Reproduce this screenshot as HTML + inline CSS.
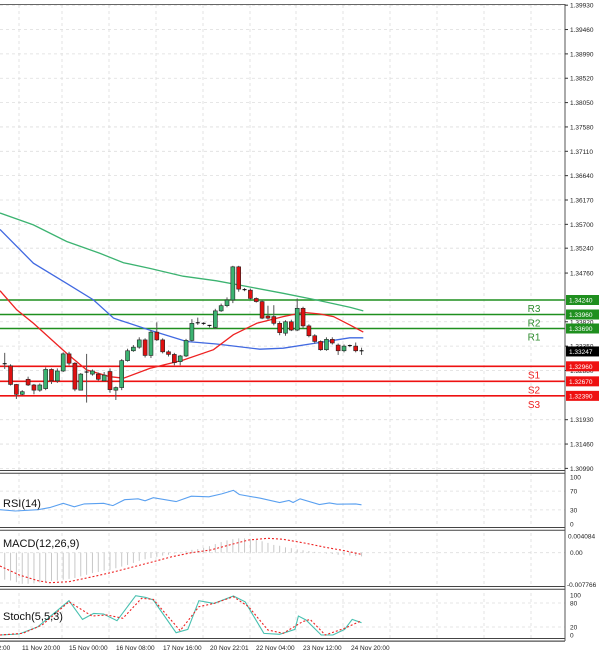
<!DOCTYPE html>
<html><head><meta charset="utf-8"><style>
html,body{margin:0;padding:0;background:#fff;}
svg{display:block;font-family:"Liberation Sans",sans-serif;}
</style></head><body>
<svg id="c" width="600" height="657" viewBox="0 0 600 657" xmlns="http://www.w3.org/2000/svg"></svg>
<script>
// ---- data ----
const opens  = [1.3301,1.3297,1.3261,1.3242,1.3271,1.3260,1.3250,1.3253,1.3290,1.3268,1.3287,1.3320,1.3302,1.3250,1.3284,1.3281,1.3281,1.3268,1.3286,1.3250,1.3255,1.3307,1.3326,1.3333,1.3347,1.3317,1.3362,1.3347,1.3324,1.3319,1.3305,1.3316,1.3346,1.3380,1.3379,1.3375,1.3371,1.3403,1.3413,1.3424,1.3488,1.3444,1.3443,1.3427,1.3421,1.3393,1.3392,1.3379,1.3360,1.3382,1.3366,1.3408,1.3374,1.3355,1.3344,1.3328,1.3348,1.3337,1.3326,1.3336,1.3335,1.3326];
const closes = [1.3299,1.3261,1.3242,1.3247,1.3260,1.3250,1.3260,1.3290,1.3268,1.3287,1.3320,1.3302,1.3252,1.3281,1.3285,1.3287,1.3271,1.3279,1.3251,1.3255,1.3307,1.3326,1.3333,1.3347,1.3317,1.3362,1.3347,1.3324,1.3319,1.3303,1.3316,1.3346,1.3379,1.3379,1.3378,1.3373,1.3403,1.3413,1.3424,1.3488,1.3445,1.3443,1.3427,1.3421,1.3389,1.3389,1.3379,1.3361,1.3382,1.3366,1.3408,1.3374,1.3355,1.3344,1.3328,1.3348,1.3341,1.3326,1.3335,1.3335,1.3326,1.3325];
const highs  = [1.3322,1.3300,1.3262,1.3250,1.3276,1.3262,1.3263,1.3294,1.3292,1.3292,1.3323,1.3324,1.3304,1.3283,1.3320,1.3290,1.3284,1.3285,1.3292,1.3257,1.3310,1.3330,1.3337,1.3352,1.3350,1.3366,1.3381,1.3350,1.3327,1.3322,1.3318,1.3349,1.3387,1.3390,1.3381,1.3376,1.3407,1.3417,1.3429,1.3490,1.3490,1.3447,1.3446,1.3429,1.3424,1.3413,1.3414,1.3383,1.3385,1.3386,1.3427,1.3411,1.3377,1.3358,1.3346,1.3352,1.3352,1.3340,1.3338,1.3338,1.3342,1.3332];
const lows   = [1.3291,1.3259,1.3233,1.3240,1.3258,1.3242,1.3247,1.3250,1.3262,1.3264,1.3285,1.3298,1.3248,1.3278,1.3226,1.3278,1.3268,1.3276,1.3245,1.3231,1.3250,1.3305,1.3324,1.3330,1.3313,1.3312,1.3345,1.3321,1.3315,1.3298,1.3298,1.3314,1.3344,1.3376,1.3376,1.3371,1.3368,1.3401,1.3410,1.3418,1.3440,1.3441,1.3425,1.3419,1.3387,1.3386,1.3375,1.3356,1.3355,1.3364,1.3364,1.3370,1.3352,1.3340,1.3326,1.3326,1.3338,1.3318,1.3323,1.3333,1.3323,1.3318];
const greenIdx = [-0.8,4.9,10.6,16.3,20.3,24.8,30.5,36.2,41.9,47.6,53.3,59.0,61.3];
const greenMA  = [1.3592,1.3569,1.3537,1.3514,1.3496,1.3485,1.3470,1.3461,1.3449,1.3437,1.3424,1.3410,1.3403];
const blueIdx  = [-0.8,4.9,10.6,15.2,18.6,24.8,31.1,36.2,43.6,47.6,53.3,59.0,61.3];
const blueMA   = [1.3560,1.3495,1.3456,1.3424,1.3389,1.3366,1.3344,1.3339,1.3329,1.3331,1.3341,1.3351,1.3351];
const redIdx   = [-0.8,2.05,4.9,10.6,14,18,20.3,24.8,30.5,35.7,39.1,43.1,47.6,51.1,53.9,56.2,59,61.3];
const redMA    = [1.3442,1.3405,1.3379,1.3321,1.3289,1.3276,1.3273,1.3292,1.3308,1.3328,1.3357,1.3379,1.3392,1.3400,1.3397,1.3392,1.3376,1.3362];
const pivotNames  = ["R3","R2","R1","S1","S2","S3"];
const pivotValues = [1.34240,1.33960,1.33690,1.32960,1.32670,1.32390];
const currentPrice = 1.33247;
const priceTicks = [1.39930,1.39460,1.38990,1.38520,1.38050,1.37580,1.37110,1.36640,1.36170,1.35700,1.35240,1.34760,1.33820,1.33350,1.32880,1.31930,1.31460,1.30990];
const rsiIdx = [-0.8,1.8,5.7,7.7,10,11.9,13.6,16.9,18.5,20.5,22.8,24,25.4,29.3,31.9,34.9,37.1,39.1,40.1,43.7,47,48.6,49.3,50.5,53.8,55.5,56.8,60,61];
const rsiVals = [30.5,27.6,30.5,34.9,44,36.7,42.7,44,39.1,51.8,53.6,49.4,56,47.6,59.1,57.9,64,71.8,62.7,54.8,45.8,50,45.8,53.6,41.5,45,42.2,42.7,40.9];
const macdHist = [-0.0066,-0.0068,-0.0072,-0.0076,-0.0076,-0.0075,-0.0073,-0.0071,-0.0069,-0.0068,-0.0066,-0.0064,-0.0062,-0.0058,-0.0054,-0.0050,-0.0047,-0.0044,-0.0042,-0.0038,-0.0034,-0.0030,-0.0025,-0.0020,-0.0016,-0.0013,-0.0010,-0.0007,-0.0005,-0.0002,0.0001,0.0004,0.0007,0.0009,0.0012,0.0016,0.0021,0.0026,0.0030,0.0033,0.0035,0.0035,0.0034,0.0031,0.0028,0.0024,0.0019,0.0017,0.0013,0.0011,0.0008,0.0006,0.0004,0.0002,0.0000,-0.0002,-0.0003,-0.0005,-0.0006,-0.0007,-0.0008,-0.0009];
const macdSigIdx = [-0.8,2.5,5.7,7.7,11,15.6,18.8,22.1,25.4,28.6,31.9,35.2,38.4,41.7,45,47.6,51.5,54.8,58.1,61];
const macdSig = [-0.00325,-0.00545,-0.00684,-0.00733,-0.00709,-0.0057,-0.00464,-0.00342,-0.0022,-0.00098,0,0.00066,0.00188,0.00311,0.00352,0.00328,0.0023,0.00132,0.00049,-0.00041];
const stochIdx = [-0.8,2.5,5.7,8.4,11,13.3,15.2,16.9,19.2,22.4,24.1,25.4,29.3,31.3,33.2,35.8,39.1,41.1,44.3,47,49.6,50.2,51.5,54.1,56.1,58.1,59.4,61];
const stochK = [0,2.5,20.8,54,85.8,39,54,52.5,35.8,98.3,94,87.5,5.8,14,85.8,79,97.5,83,4,1.7,14,47.5,37.5,0,0,14,39,30.8];
const stochSigIdx = [-0.8,3.1,6.4,11,14.9,17.5,20.2,23.4,25.4,30,33.2,35.8,39.1,41.7,45,47.6,50.9,52.2,54.8,58.1,61];
const stochD = [0,4.2,25,83,47.5,50,41.7,91.7,89,10.8,70.8,79,95.8,70.8,12.5,4.2,33.3,39,0,16.7,35.8];
const timeLabels = ["12:00","11 Nov 20:00","15 Nov 00:00","16 Nov 08:00","17 Nov 16:00","20 Nov 22:01","22 Nov 04:00","23 Nov 12:00","24 Nov 20:00"];

// ---- scales ----
const AX = 565;
const xi = i => 4.7 + i*5.85;
const yP = p => 300 - (p-1.3424)/0.000193;
const yR = v => 524 - v*0.47;
const yM = v => 552.7 - v/0.0002446;
const yS = v => 635 - v*0.4;
const NS = "http://www.w3.org/2000/svg";
const svg = document.getElementById('c');
function mk(tag, attrs, parent){
  const e = document.createElementNS(NS, tag);
  for (const k in attrs) e.setAttribute(k, attrs[k]);
  (parent||svg).appendChild(e); return e;
}
function txt(s, x, y, size, fill, anchor){
  const t = mk('text',{x:x,y:y,'font-size':size,fill:fill||'#000','text-anchor':anchor||'start'});
  t.textContent = s; return t;
}
function poly(idx, vals, yf, color, dash, w){
  const pts = idx.map((d,k)=>xi(d).toFixed(1)+','+yf(vals[k]).toFixed(1)).join(' ');
  const a = {points:pts,fill:'none',stroke:color,'stroke-width':w||1.3};
  if (dash) a['stroke-dasharray']=dash;
  return mk('polyline',a);
}

// grid
const grid = mk('g',{});


priceTicks.forEach(p=>{ mk('line',{x1:0,x2:AX,y1:yP(p),y2:yP(p),stroke:'#ddd','stroke-dasharray':'3,3','stroke-width':0.8},grid); });
const vx = [19,62,109,156,203,250,296,343,390,437,484,531];
vx.forEach(x=>{ mk('line',{x1:x,x2:x,y1:5,y2:640,stroke:'#ddd','stroke-dasharray':'3,3','stroke-width':0.8},grid); });
[[yR(70),yR(30)],[yM(0)],[yS(80),yS(20)]].flat().forEach(y=>{ mk('line',{x1:0,x2:AX,y1:y,y2:y,stroke:'#ddd','stroke-dasharray':'3,3','stroke-width':0.8},grid); });

// pivots
pivotNames.forEach((n,k)=>{
  const y = yP(pivotValues[k]); const col = n[0]==='R' ? '#1f8f1f' : '#ee1111';
  const l = mk('line',{x1:0,x2:AX,y1:y,y2:y,stroke:col,'stroke-width':1.6});
  
  
  const t = txt(n, 534, y+12, 10, n[0]==='R' ? '#2e8b2e' : '#ee2222', 'middle');
  
  
});

// MAs
const g1 = poly(greenIdx, greenMA, yP, '#3cb371');  
const b1 = poly(blueIdx, blueMA, yP, '#4169e1');  
const r1 = poly(redIdx, redMA, yP, '#ee2222');  

// candles
opens.forEach((o,i)=>{
  const c = closes[i], x = xi(i);
  const g = mk('g',{});
  
  
  mk('line',{x1:x,x2:x,y1:yP(highs[i]),y2:yP(lows[i]),stroke:'#555','stroke-width':1},g);
  const top = yP(Math.max(o,c)), bot = yP(Math.min(o,c));
  if (bot-top < 1.2) { mk('line',{x1:x-2,x2:x+2,y1:top,y2:top,stroke:'#000','stroke-width':1},g); }
  else mk('rect',{x:x-2,y:top,width:4,height:bot-top,fill:c>o?'#3cb371':'#e01010',stroke:'#222','stroke-width':0.6},g);
});

// RSI
const rl = poly(rsiIdx, rsiVals, yR, '#5aa0f0', null, 1.1);  
// MACD
macdHist.forEach((v,i)=>{
  const l = mk('line',{x1:xi(i),x2:xi(i),y1:yM(0),y2:yM(v),stroke:'#c8c8c8','stroke-width':1});
  
  
});
const ms = poly(macdSigIdx, macdSig, yM, '#ee2222', '2,2', 1.1);  
// Stoch
const sk = poly(stochIdx, stochK, yS, '#48c0b0', null, 1.1);  
const sd = poly(stochSigIdx, stochD, yS, '#ee2222', '2,2', 1.1);  

// panel frames
mk('line',{x1:0,x2:AX,y1:4.5,y2:4.5,stroke:'#666','stroke-width':1});
[472,529,588,640].forEach(y=>{
  mk('rect',{x:0,y:y-1,width:AX,height:2.5,fill:'#fff'});
  mk('line',{x1:0,x2:AX,y1:y-1.5,y2:y-1.5,stroke:'#444','stroke-width':1});
  mk('line',{x1:0,x2:AX,y1:y+1.2,y2:y+1.2,stroke:'#444','stroke-width':1});
});
mk('rect',{x:AX+0.5,y:0,width:35,height:657,fill:'#fff'});
mk('rect',{x:0,y:642,width:600,height:15,fill:'#fff'});
mk('line',{x1:AX,x2:AX,y1:4,y2:641,stroke:'#555','stroke-width':1});
mk('line',{x1:0,x2:AX,y1:641,y2:641,stroke:'#555','stroke-width':1});

// price axis
priceTicks.forEach(p=>{
  const y=yP(p);
  mk('line',{x1:AX,x2:AX+3,y1:y,y2:y,stroke:'#333'});
  const t = txt(p.toFixed(5), AX+5, y+2.5, 6.5, '#222');
  
  
});
pivotValues.forEach((p,k)=>{
  const y=yP(p), col = pivotNames[k][0]==='R' ? '#1f8f1f' : '#ee1111';
  mk('rect',{x:AX+1,y:y-5,width:33,height:10,fill:col});
  const t = txt(p.toFixed(5), AX+4, y+2.5, 6.5, '#fff');
  
  
});
mk('rect',{x:AX+1,y:yP(currentPrice)-5,width:33,height:10,fill:'#000'});
const cp = txt(currentPrice.toFixed(5), AX+4, yP(currentPrice)+2.5, 6.5, '#fff');



// indicator axes
[[100,yR(100)],[70,yR(70)],[30,yR(30)],[0,yR(0)]].forEach(a=>txt(String(a[0]),AX+5,a[1]+2.5,6.5,'#222'));
txt('0.004084',AX+3,yM(0.004084)+2.5,6.5,'#222');
txt('0.00',AX+5,yM(0)+2.5,6.5,'#222');
txt('-0.007766',AX+2,yM(-0.007766)+2.5,6.5,'#222');
[[100,yS(100)],[80,yS(80)],[20,yS(20)],[0,yS(0)]].forEach(a=>txt(String(a[0]),AX+5,a[1]+2.5,6.5,'#222'));

// indicator titles
const t1 = txt('RSI(14)',3,507,11,'#111');  
const t2 = txt('MACD(12,26,9)',3,547,11,'#111');  
const t3 = txt('Stoch(5,5,3)',3,620,11,'#111');  

// time axis
const tx = [-6,22,69,116,163,210,256,303,351];
timeLabels.forEach((s,k)=>{
  const t = txt(s, tx[k], 650, 6.5, '#222');
  
  
});
</script>
</body></html>
